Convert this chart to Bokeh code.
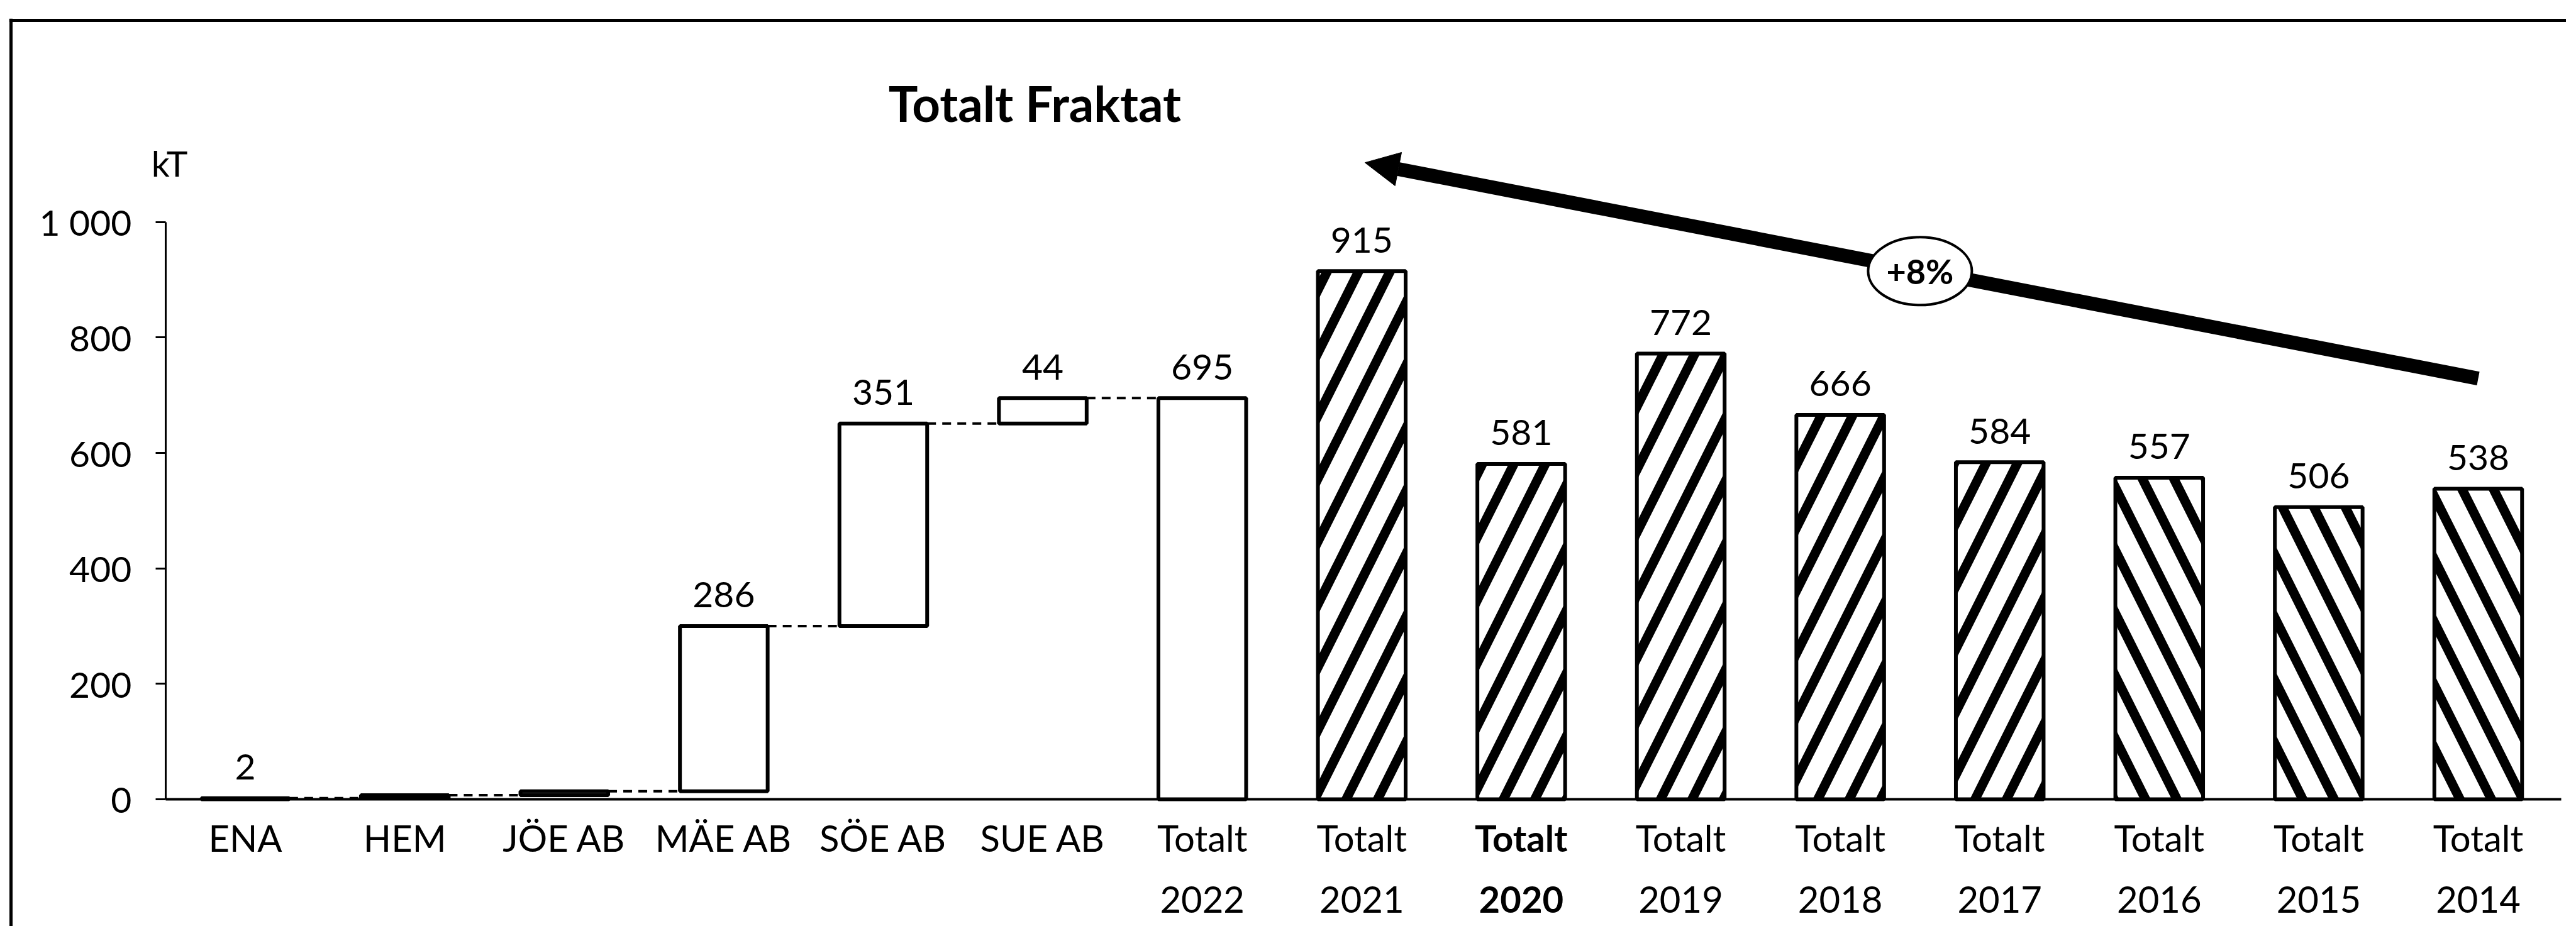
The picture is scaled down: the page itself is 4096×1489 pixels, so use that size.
import numpy as np
from bokeh.plotting import figure
from bokeh.models import (ColumnDataSource, FixedTicker, Arrow, NormalHead, Label,
                          Span, Range1d, LinearAxis)
from bokeh.core.properties import value
from bokeh.embed import file_html
from bokeh.resources import INLINE

# ---------------- data ----------------
step_names = ["ENA", "HEM", "JÖE AB", "MÄE AB", "SÖE AB", "SUE AB"]
step_values = [2, 5, 7, 286, 351, 44]
step_labels = ["2", "", "", "286", "351", "44"]

total_name = "Totalt\n2022"
total_value = 695
total_label = "695"

hist_names = ["Totalt\n2021", "Totalt\n2020", "Totalt\n2019", "Totalt\n2018",
              "Totalt\n2017", "Totalt\n2016", "Totalt\n2015", "Totalt\n2014"]
hist_values = [915, 581, 772, 666, 584, 557, 506, 538]
hist_hatch = ["/", "/", "/", "/", "/", "\\", "\\", "\\"]

y_ticks = [0, 200, 400, 600, 800, 1000]
y_tick_labels = ["0", "200", "400", "600", "800", "1 000"]

title_text = "Totalt Fraktat"
unit_text = "kT"
trend_text = "+8%"
# trend arrow: from Totalt 2014 up to Totalt 2021
trend_start = (14, 729)
trend_end = (7.02, 1103)
trend_badge = (10.5, 915)

# ---------------- derived ----------------
categories = step_names + [total_name] + hist_names
n = len(categories)
idx = list(range(n))
cum = np.cumsum(step_values)
step_bottom = [0] + list(cum[:-1])
step_top = list(cum)

FONT = "Lato"
BW = 0.55
LABEL_GAP = 54

W, H = 4080, 1473
X0, X1 = -1.481, 14.552
Y0, Y1 = -220, 1352.6
p = figure(width=W, height=H, x_range=Range1d(X0, X1), y_range=Range1d(Y0, Y1),
           output_backend="svg", toolbar_location=None, x_axis_location=None, y_axis_location=None,
           min_border_left=14, min_border_right=0, min_border_top=29, min_border_bottom=0)
p.outline_line_color = None
p.grid.visible = False
p.background_fill_color = "white"
p.border_fill_color = "white"

# outer border (left and top lines only)
px_x = (X1 - X0) / (W - 14)
px_y = (Y1 - Y0) / (H - 29)
p.add_layout(Span(location=X0 + 3 * px_x, dimension="height", line_color="black", line_width=5))
p.add_layout(Span(location=Y1 - 3 * px_y, dimension="width", line_color="black", line_width=5))

# waterfall step bars
src_steps = ColumnDataSource(dict(x=idx[:6], bottom=step_bottom, top=step_top))
p.vbar(x="x", bottom="bottom", top="top", width=BW, source=src_steps,
       fill_color="white", line_color="black", line_width=6)
# total 2022
p.vbar(x=[6], bottom=[0], top=[total_value], width=BW,
       fill_color="white", line_color="black", line_width=6)
# connectors
conn_x0 = [i + BW / 2 for i in range(6)]
conn_x1 = [i + 1 - BW / 2 for i in range(6)]
p.segment(x0=conn_x0, y0=step_top, x1=conn_x1, y1=step_top,
          line_color="black", line_width=4, line_dash="14 10")

# historic totals (hatched)
src_hist = ColumnDataSource(dict(x=idx[7:], top=hist_values, hatch=hist_hatch))
p.vbar(x="x", bottom=0, top="top", width=BW, source=src_hist,
       fill_color="white", line_color="black", line_width=6,
       hatch_pattern="hatch", hatch_color="black", hatch_weight=15, hatch_scale=100)

# value labels
lab_x, lab_y, lab_t = [], [], []
for i, (t, l) in enumerate(zip(step_top, step_labels)):
    if l:
        lab_x.append(i); lab_y.append(t + LABEL_GAP); lab_t.append(l)
lab_x.append(6); lab_y.append(total_value + LABEL_GAP); lab_t.append(total_label)
for i, v in zip(idx[7:], hist_values):
    lab_x.append(i); lab_y.append(v + LABEL_GAP); lab_t.append(str(v))
p.text(x=lab_x, y=lab_y, text=lab_t, text_align="center", text_baseline="alphabetic",
       text_font=value(FONT), text_font_size="57px", text_color="black")

# title
p.text(x=[4.95], y=[1206], text=[title_text], text_align="center", text_baseline="alphabetic",
       text_font=value(FONT), text_font_size="78px", text_font_style="bold", text_color="black")

# trend arrow
arrow = Arrow(end=NormalHead(size=54, fill_color="black", line_color="black", line_width=1),
              x_start=trend_start[0], y_start=trend_start[1],
              x_end=trend_end[0], y_end=trend_end[1],
              line_width=22, line_color="black")
p.add_layout(arrow)
e = p.ellipse(x=[trend_badge[0]], y=[trend_badge[1]], width=165, height=108,
              width_units="screen", height_units="screen",
              fill_color="white", line_color="black", line_width=4)
e.level = "overlay"
t8 = p.text(x=[trend_badge[0]], y=[trend_badge[1]], text=[trend_text], text_align="center",
            text_baseline="middle", text_font=value(FONT), text_font_size="54px",
            text_font_style="bold", text_color="black")
t8.level = "overlay"

# unit label
p.add_layout(Label(x=-0.475, y=1103, text=unit_text, text_align="center",
                   text_baseline="alphabetic", text_font=FONT, text_font_size="57px",
                   text_color="black"))

# axes (drawn at fixed data locations inside the frame)
yaxis = LinearAxis(fixed_location=-0.5)
yaxis.ticker = FixedTicker(ticks=y_ticks)
yaxis.major_label_overrides = {t: l for t, l in zip(y_ticks, y_tick_labels)}
yaxis.bounds = (0, 1000)
yaxis.axis_line_width = 3
yaxis.axis_line_color = "black"
yaxis.major_tick_out = 16
yaxis.major_tick_in = 0
yaxis.major_tick_line_width = 3
yaxis.major_tick_line_color = "black"
yaxis.minor_tick_line_color = None
yaxis.major_label_standoff = 38
yaxis.major_label_text_font = FONT
yaxis.major_label_text_font_size = "57px"
yaxis.major_label_text_color = "black"
p.add_layout(yaxis, "left")

bold_idx = 8
xaxis = LinearAxis(fixed_location=0)
xaxis.ticker = FixedTicker(ticks=idx)
xaxis.major_label_overrides = {i: ("" if i == bold_idx else c) for i, c in zip(idx, categories)}
xaxis.bounds = (-0.5, 14.52)
xaxis.axis_line_width = 4
xaxis.axis_line_color = "black"
xaxis.major_tick_out = 0
xaxis.major_tick_in = 0
xaxis.minor_tick_line_color = None
xaxis.major_label_standoff = 27
xaxis.major_label_text_font = FONT
xaxis.major_label_text_font_size = "58px"
xaxis.major_label_text_color = "black"
xaxis.major_label_text_line_height = 1.4
p.add_layout(xaxis, "below")

p.add_layout(Label(x=bold_idx, y=0, y_offset=-27, text=categories[bold_idx], text_align="center",
                   text_baseline="top", text_font=FONT, text_font_size="58px",
                   text_font_style="bold", text_color="black", text_line_height=1.4))

open("out.html", "w").write(file_html(p, INLINE))
